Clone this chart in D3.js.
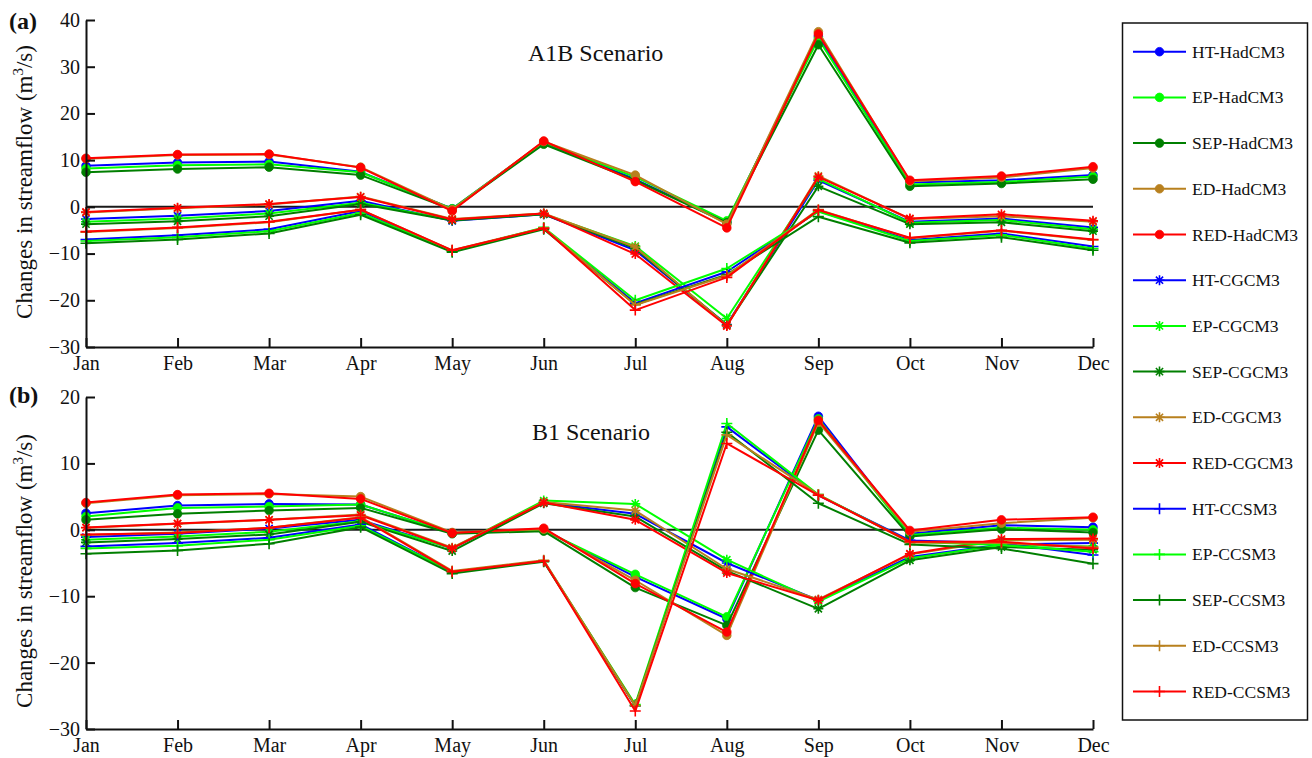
<!DOCTYPE html>
<html>
<head>
<meta charset="utf-8">
<script src="https://cdn.jsdelivr.net/npm/d3@7"></script>
<style>
  body { margin: 0; background: #fff; }
  svg, svg text { font-family: "Liberation Serif", "DejaVu Serif", "Times New Roman", Times, serif; }
</style>
</head>
<body>
<svg id="chart" width="1312" height="758"></svg>
<script>
"use strict";

var FONT = '"Liberation Serif", "DejaVu Serif", "Times New Roman", Times, serif';

var months = ['Jan','Feb','Mar','Apr','May','Jun','Jul','Aug','Sep','Oct','Nov','Dec'];
var sites = ['HT','EP','SEP','ED','RED'];
var siteColors = ['#0000ff','#00ff00','#007f00','#b8801e','#ff0000'];
var gcms = ['HadCM3','CGCM3','CCSM3'];
var gcmMarkers = ['circle','asterisk','plus'];

// rows follow sites order: HT, EP, SEP, ED, RED
var a1bHadCM3 = [
  [8.8, 9.5, 9.7, 7.5, -0.4, 13.8, 5.9, -3.3, 36.5, 5.2, 5.7, 6.8],
  [8.2, 8.9, 9.1, 7.4, -0.4, 13.8, 6.4, -3.0, 36.0, 4.8, 5.3, 6.5],
  [7.4, 8.1, 8.5, 6.8, -0.6, 13.4, 5.7, -3.4, 34.7, 4.4, 5.0, 5.9],
  [10.3, 11.1, 11.2, 8.5, -0.6, 14.0, 6.8, -3.7, 37.5, 5.5, 6.3, 8.3],
  [10.4, 11.2, 11.3, 8.4, -0.9, 14.1, 5.4, -4.5, 37.0, 5.7, 6.6, 8.6]
];
var a1bCGCM3 = [
  [-2.6, -1.9, -0.9, 1.3, -3.0, -1.6, -9.3, -25.2, 5.7, -3.2, -2.5, -4.4],
  [-3.2, -2.5, -1.4, 0.9, -2.8, -1.5, -8.4, -23.9, 6.0, -3.4, -2.8, -4.8],
  [-3.7, -3.1, -2.0, 0.6, -2.9, -1.6, -8.9, -25.3, 4.4, -3.7, -3.3, -5.2],
  [-1.2, -0.3, 0.5, 2.2, -2.6, -1.4, -8.6, -25.4, 6.6, -2.6, -2.0, -3.2],
  [-1.1, -0.2, 0.6, 2.1, -2.7, -1.4, -10.1, -25.5, 6.4, -2.5, -1.6, -3.0]
];
var a1bCCSM3 = [
  [-7.0, -6.1, -4.8, -0.9, -9.4, -4.6, -20.6, -13.9, -0.9, -7.1, -5.7, -8.5],
  [-7.3, -6.5, -5.2, -1.3, -9.5, -4.4, -20.0, -13.2, -1.0, -7.3, -6.0, -8.9],
  [-7.8, -7.0, -5.7, -1.7, -9.7, -4.8, -20.9, -14.5, -2.1, -7.7, -6.5, -9.3],
  [-5.4, -4.5, -3.3, -0.6, -9.3, -4.5, -21.0, -14.7, -0.6, -6.7, -5.1, -7.1],
  [-5.3, -4.4, -3.2, -0.6, -9.3, -4.6, -22.1, -15.1, -0.7, -6.6, -5.0, -7.0]
];

var b1HadCM3 = [
  [2.5, 3.65, 3.9, 3.8, -0.5, 0.0, -7.1, -13.4, 17.1, -0.6, 0.7, 0.4],
  [2.0, 3.3, 3.5, 3.8, -0.5, -0.1, -6.7, -13.1, 16.7, -0.8, 0.3, 0.0],
  [1.5, 2.4, 2.9, 3.3, -0.6, -0.2, -8.7, -14.4, 15.0, -1.0, 0.1, -0.4],
  [4.0, 5.2, 5.4, 5.0, -0.4, 0.1, -7.6, -15.9, 16.2, -0.3, 1.0, 1.8],
  [4.1, 5.3, 5.5, 4.65, -0.5, 0.24, -8.1, -15.4, 16.5, -0.1, 1.5, 1.9]
];
var b1CGCM3 = [
  [-1.1, -0.6, 0.2, 1.5, -2.8, 4.1, 2.4, -5.0, -10.6, -4.1, -2.2, -2.0],
  [-1.5, -1.0, -0.3, 1.3, -2.8, 4.4, 3.9, -4.5, -10.8, -4.3, -2.3, -2.5],
  [-1.9, -1.4, -0.7, 1.2, -3.2, 4.0, 2.0, -6.2, -11.9, -4.6, -2.6, -3.0],
  [0.3, 0.9, 1.5, 2.3, -2.7, 4.2, 2.9, -5.9, -10.5, -3.7, -1.6, -1.5],
  [0.35, 0.95, 1.5, 2.2, -2.8, 4.1, 1.5, -6.5, -10.6, -3.6, -1.4, -1.3]
];
var b1CCSM3 = [
  [-2.5, -2.0, -1.2, 0.8, -6.3, -4.7, -26.5, 15.5, 5.2, -1.6, -2.0, -3.8],
  [-2.8, -2.4, -1.5, 0.6, -6.3, -4.7, -26.3, 16.0, 5.3, -1.8, -2.3, -3.3],
  [-3.6, -3.1, -2.1, 0.4, -6.6, -4.8, -26.5, 14.7, 4.0, -2.2, -2.8, -5.1],
  [-0.8, -0.4, 0.3, 1.9, -6.2, -4.6, -26.5, 14.3, 5.3, -1.9, -2.0, -2.6],
  [-0.7, -0.5, 0.3, 1.8, -6.3, -4.7, -27.3, 13.0, 5.2, -1.8, -1.8, -2.8]
];

var a1bTicks = [-30, -20, -10, 0, 10, 20, 30, 40];
var b1Ticks = [-30, -20, -10, 0, 10, 20];

var svg = d3.select('#chart').attr('font-family', FONT);

var x = d3.scalePoint().domain(months).range([86, 1093]);

function markerPath(kind) {
  if (kind === 'asterisk') {
    var s = 5, d = 3.6;
    return 'M0,' + (-s) + 'V' + s + 'M' + (-s) + ',0H' + s +
      'M' + (-d) + ',' + (-d) + 'L' + d + ',' + d +
      'M' + (-d) + ',' + d + 'L' + d + ',' + (-d);
  }
  var p = 5.5;
  return 'M0,' + (-p) + 'V' + p + 'M' + (-p) + ',0H' + p;
}

function drawMarker(g, kind, color, px, py) {
  if (kind === 'circle') {
    g.append('circle').attr('cx', px).attr('cy', py).attr('r', 4.3)
      .attr('fill', color).attr('stroke', color).attr('stroke-width', 0.8);
  } else {
    g.append('path').attr('transform', 'translate(' + px + ',' + py + ')')
      .attr('d', markerPath(kind))
      .attr('fill', 'none').attr('stroke', color).attr('stroke-width', 1.6);
  }
}

function drawPanel(opt) {
  var y = d3.scaleLinear().domain([-30, opt.top]).range([opt.y1, opt.y0]);
  var g = svg.append('g');

  // zero line
  g.append('line')
    .attr('x1', x('Jan')).attr('x2', x('Dec'))
    .attr('y1', y(0)).attr('y2', y(0))
    .attr('stroke', '#1a1a1a').attr('stroke-width', 2);

  var line = d3.line()
    .x(function (d, i) { return x(months[i]); })
    .y(function (d) { return y(d); });

  opt.groups.forEach(function (rows, gi) {
    rows.forEach(function (vals, si) {
      var color = siteColors[si];
      g.append('path').datum(vals)
        .attr('d', line)
        .attr('fill', 'none').attr('stroke', color).attr('stroke-width', 2)
        .attr('stroke-linejoin', 'round');
      var mg = g.append('g');
      vals.forEach(function (v, i) {
        drawMarker(mg, gcmMarkers[gi], color, x(months[i]), y(v));
      });
    });
  });

  var yAxis = g.append('g')
    .attr('transform', 'translate(' + x('Jan') + ',0)')
    .call(d3.axisLeft(y).tickValues(opt.ticks).tickSizeInner(-9).tickSizeOuter(0).tickPadding(6));
  var xAxis = g.append('g')
    .attr('transform', 'translate(0,' + opt.y1 + ')')
    .call(d3.axisBottom(x).tickSizeInner(-9).tickSizeOuter(0).tickPadding(9));

  [yAxis, xAxis].forEach(function (ax) {
    ax.attr('font-family', FONT);
    ax.selectAll('path, line').attr('stroke', '#111').attr('stroke-width', 2);
    ax.selectAll('text').attr('font-size', 20).attr('fill', '#111')
      .attr('font-family', FONT);
  });

  // y label
  var lab = g.append('text')
    .attr('transform', 'translate(32,' + opt.labelY + ') rotate(-90)')
    .attr('text-anchor', 'middle').attr('font-family', FONT)
    .attr('font-size', 23).attr('fill', '#111');
  lab.append('tspan').text('Changes in streamflow (m');
  lab.append('tspan').text('3').attr('font-size', 15).attr('dy', -9);
  lab.append('tspan').text('/s)').attr('dy', 9);

  g.append('text').attr('x', 9).attr('y', opt.tagY).attr('font-family', FONT)
    .attr('font-size', 24).attr('font-weight', 'bold').attr('fill', '#111')
    .text(opt.tag);

  g.append('text').attr('x', opt.titleX).attr('y', opt.titleY).attr('font-family', FONT)
    .attr('font-size', 24).attr('fill', '#111')
    .text(opt.title);
}

drawPanel({
  top: 40, y0: 20, y1: 347, ticks: a1bTicks,
  groups: [a1bHadCM3, a1bCGCM3, a1bCCSM3],
  labelY: 182, tag: '(a)', tagY: 29,
  title: 'A1B Scenario', titleX: 528, titleY: 61
});

drawPanel({
  top: 20, y0: 397, y1: 729, ticks: b1Ticks,
  groups: [b1HadCM3, b1CGCM3, b1CCSM3],
  labelY: 571, tag: '(b)', tagY: 403,
  title: 'B1 Scenario', titleX: 532, titleY: 440
});

// legend
var legend = svg.append('g');
legend.append('rect')
  .attr('x', 1122.5).attr('y', 23).attr('width', 185).attr('height', 697)
  .attr('fill', '#fff').attr('stroke', '#111').attr('stroke-width', 1.5);

var entries = [];
gcms.forEach(function (gcm, gi) {
  sites.forEach(function (site, si) {
    entries.push({ label: site + '-' + gcm, color: siteColors[si], marker: gcmMarkers[gi] });
  });
});

entries.forEach(function (e, i) {
  var ly = 51.7 + i * 45.7;
  var eg = legend.append('g');
  eg.append('line').attr('x1', 1133).attr('x2', 1186).attr('y1', ly).attr('y2', ly)
    .attr('stroke', e.color).attr('stroke-width', 2);
  drawMarker(eg, e.marker, e.color, 1159.5, ly);
  eg.append('text').attr('x', 1192).attr('y', ly + 6).attr('font-family', FONT)
    .attr('font-size', 17.5).attr('fill', '#111').text(e.label);
});
</script>
</body>
</html>
